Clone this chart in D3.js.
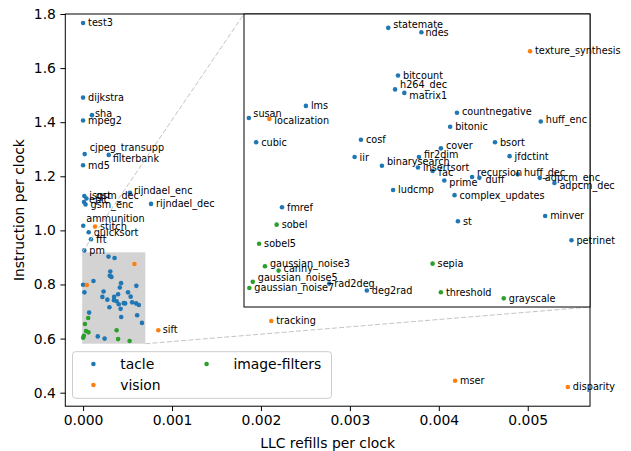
<!DOCTYPE html>
<html>
<head>
<meta charset="utf-8">
<script src="https://cdn.jsdelivr.net/npm/d3@7"></script>
<style>
  body { margin: 0; background: #fff; }
  svg { display: block; font-family: "DejaVu Sans", sans-serif; }
</style>
</head>
<body>
<svg id="chart" width="631" height="451"></svg>
<script>
var suites = ["tacle", "vision", "image-filters"];
var suiteColors = ["#1f77b4", "#ff7f0e", "#2ca02c"];

var tacleNames = ["test3", "dijkstra", "sha", "mpeg2", "cjpeg_transupp", "filterbank", "md5", "isqrt", "gsm_dec", "epic",
    "gsm_enc", "rijndael_enc", "rijndael_dec", "ammunition", "quicksort", "fft", "pm", "statemate", "ndes", "bitcount",
    "h264_dec", "matrix1", "lms", "susan", "cubic", "cosf", "iir", "binarysearch", "fir2dim", "insertsort",
    "fac", "cover", "prime", "ludcmp", "complex_updates", "countnegative", "bitonic", "huff_enc", "bsort", "jfdctint",
    "recursion", "duff", "huff_dec", "adpcm_enc", "adpcm_dec", "st", "minver", "petrinet", "fmref", "rad2deg", "deg2rad"];
var tacleLLC = [0, 0, 0.000100, 0, 0.000018, 0.000288, 0, 0.000014, 0.000038, 0.000010,
    0.000027, 0.000527, 0.000764, 0.000002, 0.000063, 0.000089, 0.000014, 0.000286, 0.000354, 0.000306,
    0.000300, 0.000319, 0.000117, 0.000000, 0.000015, 0.000230, 0.000217, 0.000273, 0.000349, 0.000347,
    0.000377, 0.000394, 0.000401, 0.000296, 0.000422, 0.000427, 0.000413, 0.000599, 0.000505, 0.000535,
    0.000458, 0.000473, 0.000552, 0.000597, 0.000627, 0.000429, 0.000608, 0.000662, 0.000068, 0.000165, 0.000242];
var tacleIPC = [1.767, 1.491, 1.426, 1.406, 1.282, 1.279, 1.241, 1.127, 1.118, 1.105,
    1.096, 1.139, 1.098, 1.017, 0.993, 0.967, 0.926, 0.903, 0.898, 0.848,
    0.832, 0.828, 0.813, 0.799, 0.771, 0.774, 0.754, 0.744, 0.754, 0.742,
    0.738, 0.764, 0.727, 0.716, 0.710, 0.805, 0.789, 0.795, 0.771, 0.755,
    0.731, 0.730, 0.734, 0.730, 0.724, 0.680, 0.686, 0.658, 0.696, 0.608, 0.600];

var visionNames = ["stitch", "sift", "tracking", "mser", "disparity", "localization", "texture_synthesis"];
var visionLLC = [0.000134, 0.000846, 0.002116, 0.004183, 0.005451, 0.000042, 0.000577];
var visionIPC = [1.014, 0.631, 0.665, 0.444, 0.421, 0.798, 0.876];

var filterNames = ["sobel", "sobel5", "gaussian_noise3", "canny", "gaussian_noise5", "gaussian_noise7", "sepia", "threshold", "grayscale"];
var filterLLC = [0.000057, 0.000021, 0.000033, 0.000061, 0.000008, 0.000001, 0.000377, 0.000394, 0.000523];
var filterIPC = [0.676, 0.654, 0.628, 0.623, 0.610, 0.603, 0.631, 0.598, 0.591];

var xTicks = [0, 0.001, 0.002, 0.003, 0.004, 0.005];
var yTicks = [0.4, 0.6, 0.8, 1.0, 1.2, 1.4, 1.6, 1.8];

// zoomed region shown in the inset
var zoomX = [-0.00001, 0.0007];
var zoomY = [0.581, 0.919];

// hand nudges for labels that were pushed around in the original
var labelNudge = {
    "sha": [-2, -2], "cjpeg_transupp": [0, -7], "filterbank": [-1, 4], "isqrt": [0, -1],
    "gsm_dec": [4.5, -2.5], "epic": [0, -2], "rijndael_enc": [-1, -2], "ammunition": [-2, -7],
    "sift": [-0.5, -1], "statemate": [0, -3], "ndes": [-1, 0], "h264_dec": [0, -5], "matrix1": [0, 3],
    "susan": [-0.5, -5], "localization": [0, 2], "binarysearch": [0, -4], "fir2dim": [0, -3],
    "fac": [1, 2], "cover": [0, -3], "prime": [0, 2], "recursion": [0, -4], "duff": [1, 2],
    "huff_dec": [1, -2], "adpcm_dec": [0, 2], "gaussian_noise3": [0, -3], "canny": [0, -2],
    "gaussian_noise5": [0, -4], "countnegative": [0, -1.5], "huff_enc": [0, -2], "texture_synthesis": [0, -1]
};

var points = [];
function addSuite(names, llc, ipc, suite){
    names.forEach(function(n, i){
        points.push({name: n, x: llc[i], y: ipc[i], suite: suite});
    });
}
addSuite(tacleNames, tacleLLC, tacleIPC, "tacle");
addSuite(visionNames, visionLLC, visionIPC, "vision");
addSuite(filterNames, filterLLC, filterIPC, "image-filters");

var color = d3.scaleOrdinal().domain(suites).range(suiteColors);

function inZoom(d){
    return d.x >= zoomX[0] && d.x <= zoomX[1] && d.y >= zoomY[0] && d.y <= zoomY[1];
}

var svg = d3.select("#chart");

var x = d3.scaleLinear().domain([-0.0002, 0.0057]).range([65.3, 590]);
var y = d3.scaleLinear().domain([0.35, 1.8]).range([406.2, 14]);

var xi = d3.scaleLinear().domain(zoomX).range([244, 590]);
var yi = d3.scaleLinear().domain(zoomY).range([307, 14]);

// main axes
var main = svg.append("g");

main.append("rect")
        .attr("x", x(zoomX[0]))
        .attr("y", y(zoomY[1]))
        .attr("width", x(zoomX[1]) - x(zoomX[0]))
        .attr("height", y(zoomY[0]) - y(zoomY[1]))
        .style("fill", "#d3d3d3");

main.selectAll("circle.pt")
        .data(points)
        .enter().append("circle")
        .attr("class", "pt")
        .attr("cx", function(d){ return x(d.x); })
        .attr("cy", function(d){ return y(d.y); })
        .attr("r", 2.3)
        .style("fill", function(d){ return color(d.suite); });

function labelX(d, sx){ var n = labelNudge[d.name] || [0, 0]; return sx(d.x) + 5 + n[0]; }
function labelY(d, sy){ var n = labelNudge[d.name] || [0, 0]; return sy(d.y) + 3.5 + n[1]; }

main.selectAll("text.lbl")
        .data(points.filter(function(d){ return !inZoom(d); }))
        .enter().append("text")
        .attr("class", "lbl")
        .attr("x", function(d){ return labelX(d, x); })
        .attr("y", function(d){ return labelY(d, y); })
        .style("font-size", "9.7px")
        .style("fill", "#000")
        .text(function(d){ return d.name; });

var xAxis = main.append("g")
        .attr("transform", "translate(0,406.2)")
        .call(d3.axisBottom(x).tickValues(xTicks).tickFormat(d3.format(".3f")).tickSize(4.9).tickPadding(4));
var yAxis = main.append("g")
        .attr("transform", "translate(65.3,0)")
        .call(d3.axisLeft(y).tickValues(yTicks).tickFormat(d3.format(".1f")).tickSize(4.9).tickPadding(4.5));
[xAxis, yAxis].forEach(function(a){
    a.select(".domain").remove();
    a.selectAll("text").style("font-size", "13.9px").style("font-family", "DejaVu Sans").style("fill", "#000");
    a.selectAll("line").style("stroke", "#000").style("stroke-width", 1);
});

main.append("rect")
        .attr("x", 65.3)
        .attr("y", 14)
        .attr("width", 590 - 65.3)
        .attr("height", 406.2 - 14)
        .style("fill", "none")
        .style("stroke", "#000")
        .style("stroke-width", 1);

main.append("text")
        .attr("x", (65.3 + 590) / 2)
        .attr("y", 447.5)
        .attr("text-anchor", "middle")
        .style("font-size", "13.9px")
        .text("LLC refills per clock");

main.append("text")
        .attr("transform", "translate(23.5," + ((14 + 406.2) / 2) + ") rotate(-90)")
        .attr("text-anchor", "middle")
        .style("font-size", "13.9px")
        .text("Instruction per clock");

// connector lines from the zoom box to the inset
var connectors = [
    [x(zoomX[0]), y(zoomY[1]), xi.range()[0], yi.range()[1]],
    [x(zoomX[1]), y(zoomY[0]), xi.range()[1], yi.range()[0]]
];
main.selectAll("line.conn")
        .data(connectors)
        .enter().append("line")
        .attr("class", "conn")
        .attr("x1", function(d){ return d[0]; })
        .attr("y1", function(d){ return d[1]; })
        .attr("x2", function(d){ return d[2]; })
        .attr("y2", function(d){ return d[3]; })
        .style("stroke", "#c4c4c4")
        .style("stroke-width", 1)
        .style("stroke-dasharray", "5,2.2");

// legend
var legend = main.append("g");
legend.append("rect")
        .attr("x", 72.5)
        .attr("y", 351.7)
        .attr("width", 259)
        .attr("height", 46.6)
        .attr("rx", 3)
        .style("fill", "#fff")
        .style("fill-opacity", 0.8)
        .style("stroke", "#cccccc")
        .style("stroke-width", 1);
var entries = legend.selectAll("g.entry")
        .data(suites)
        .enter().append("g")
        .attr("class", "entry")
        .attr("transform", function(d, i){
            return "translate(" + (93.4 + Math.floor(i / 2) * 113.2) + "," + (364 + (i % 2) * 21) + ")";
        });
entries.append("circle")
        .attr("r", 2.3)
        .style("fill", function(d){ return color(d); });
entries.append("text")
        .attr("x", 26.8)
        .attr("y", 5)
        .style("font-size", "13.9px")
        .text(function(d){ return d; });

// inset axes
var inset = svg.append("g");
inset.append("rect")
        .attr("x", 244)
        .attr("y", 14)
        .attr("width", 590 - 244)
        .attr("height", 307 - 14)
        .style("fill", "#fff");

var zoomPts = points.filter(inZoom);
inset.selectAll("circle")
        .data(zoomPts)
        .enter().append("circle")
        .attr("cx", function(d){ return xi(d.x); })
        .attr("cy", function(d){ return yi(d.y); })
        .attr("r", 2.3)
        .style("fill", function(d){ return color(d.suite); });

inset.append("rect")
        .attr("x", 244)
        .attr("y", 14)
        .attr("width", 590 - 244)
        .attr("height", 307 - 14)
        .style("fill", "none")
        .style("stroke", "#000")
        .style("stroke-width", 1);

inset.selectAll("text")
        .data(zoomPts)
        .enter().append("text")
        .attr("x", function(d){ return labelX(d, xi); })
        .attr("y", function(d){ return labelY(d, yi); })
        .style("font-size", "9.7px")
        .text(function(d){ return d.name; });
</script>
</body>
</html>
